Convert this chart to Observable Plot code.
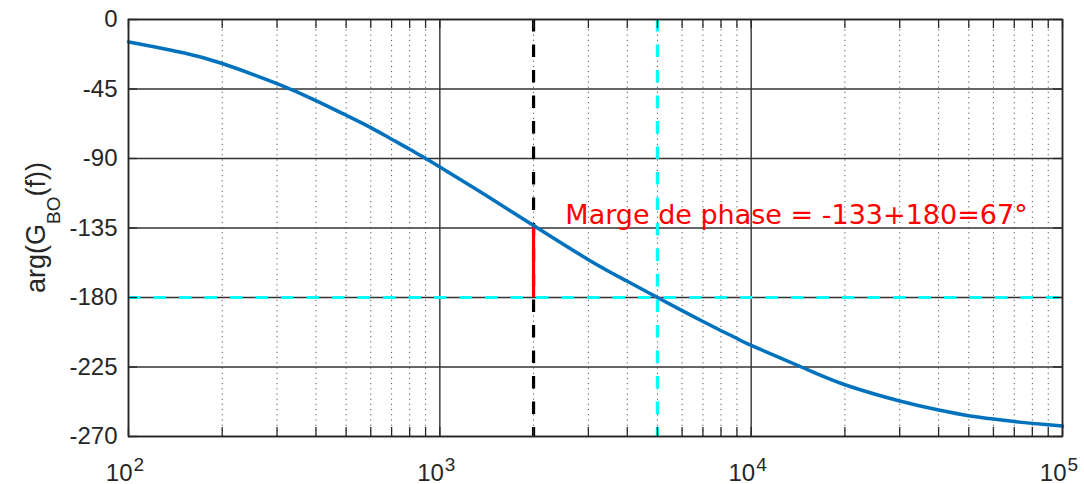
<!DOCTYPE html>
<html>
<head>
<meta charset="utf-8">
<script src="https://cdn.jsdelivr.net/npm/d3@7"></script>
<script src="https://cdn.jsdelivr.net/npm/@observablehq/plot@0.6"></script>
<style>
  html, body { margin: 0; padding: 0; background: #fff; }
</style>
</head>
<body>
<div id="chart"></div>
<script>
// ---- data ----
const freq  = [100, 150, 200, 300, 400, 500, 600, 700, 800, 900, 1000, 1422, 2000, 3000, 4000, 5000, 6000, 7000, 8000, 9000, 10000, 14500, 20000, 30000, 40000, 50000, 60000, 70000, 80000, 90000, 100000];
const phase = [-14.5, -21.5, -28.5, -41.5, -52.5, -62, -70, -77.5, -84, -90, -95.5, -114.5, -133.4, -155.5, -169.5, -180, -188.5, -195.5, -201.5, -206.5, -211, -225, -236.5, -247, -252.8, -256.5, -258.7, -260.3, -261.5, -262.4, -263.2];

const xMajor = [100, 1000, 10000, 100000];
const xTickBase = ["10", "10", "10", "10"];
const xTickExp = ["2", "3", "4", "5"];
const xMinor = [200,300,400,500,600,700,800,900, 2000,3000,4000,5000,6000,7000,8000,9000, 20000,30000,40000,50000,60000,70000,80000,90000];
const yTicks = [0, -45, -90, -135, -180, -225, -270];
const yTickLabels = ["0", "-45", "-90", "-135", "-180", "-225", "-270"];

const crossoverFreq = [2000];      // black dashed vertical
const phaseCrossFreq = [5000];     // cyan dashed vertical
const phaseRef = [-180];           // cyan dashed horizontal
const marginSeg = [{f: 2000, from: -180, to: -133}];
const annotation = [{f: 2530, p: -127, label: "Marge de phase = -133+180=67°"}];

const curve = freq.map((f, i) => ({f, p: phase[i]}));

const W = 1084, H = 484, mL = 128, mR = 22, mT = 19, mB = 48;
const pw = W - mL - mR, ph = H - mT - mB;
const tickLen = 9;
const allX = xMajor.concat(xMinor);
const ink = "#262626";

const chart = Plot.plot({
  width: W, height: H,
  marginLeft: mL, marginRight: mR, marginTop: mT, marginBottom: mB,
  x: {type: "log", domain: [100, 100000], axis: null},
  y: {domain: [-270, 0], axis: null},
  style: {fontFamily: "'Liberation Sans', Arial, Helvetica, sans-serif", background: "#fff", overflow: "visible"},
  marks: [
    // grid
    Plot.ruleX(xMinor, {x: d => d, stroke: "#555", strokeWidth: 1, strokeDasharray: "1.2,4"}),
    Plot.ruleX(xMajor, {x: d => d, stroke: "#333", strokeWidth: 1.4}),
    Plot.ruleY(yTicks, {y: d => d, stroke: "#333", strokeWidth: 1.4}),
    // reference lines
    Plot.ruleX(crossoverFreq, {x: d => d, stroke: "#000", strokeWidth: 3.2, strokeDasharray: "12.5,13"}),
    Plot.ruleX(phaseCrossFreq, {x: d => d, stroke: "#00FFFF", strokeWidth: 3.2, strokeDasharray: "12.5,13"}),
    Plot.ruleY(phaseRef, {y: d => d, stroke: "#00FFFF", strokeWidth: 3.2, strokeDasharray: "12.5,13"}),
    Plot.ruleX(marginSeg, {x: "f", y1: "from", y2: "to", stroke: "#FF0000", strokeWidth: 3.2}),
    // curve
    Plot.line(curve, {x: "f", y: "p", stroke: "#0072BD", strokeWidth: 3.5, curve: "natural"}),
    // annotation
    Plot.text(annotation, {x: "f", y: "p", text: "label", fill: "#FF0000", fontSize: 27,
      fontFamily: "'DejaVu Sans', Verdana, sans-serif", textAnchor: "start", lineAnchor: "middle"}),
    // frame
    Plot.frame({stroke: ink, strokeWidth: 1.6}),
    // inward ticks
    Plot.ruleX(allX, {x: d => d, stroke: ink, strokeWidth: 1.3, insetTop: ph - tickLen}),
    Plot.ruleX(allX, {x: d => d, stroke: ink, strokeWidth: 1.3, insetBottom: ph - tickLen}),
    Plot.ruleY(yTicks, {y: d => d, stroke: ink, strokeWidth: 1.3, insetRight: pw - tickLen}),
    Plot.ruleY(yTicks, {y: d => d, stroke: ink, strokeWidth: 1.3, insetLeft: pw - tickLen}),
    // tick labels
    Plot.text(yTicks, {y: d => d, text: (d, i) => yTickLabels[i], frameAnchor: "left", dx: -11,
      textAnchor: "end", lineAnchor: "middle", fontSize: 24, fill: ink}),
    Plot.text(xMajor, {x: d => d, text: (d, i) => xTickBase[i], frameAnchor: "bottom", dy: 36.6, dx: 4,
      textAnchor: "end", lineAnchor: "middle", fontSize: 24, fill: ink}),
    Plot.text(xMajor, {x: d => d, text: (d, i) => xTickExp[i], frameAnchor: "bottom", dy: 28, dx: 5,
      textAnchor: "start", lineAnchor: "middle", fontSize: 19, fill: ink})
  ]
});

// y-axis label with subscript
const svg = d3.select(chart);
const lab = svg.append("text")
  .attr("transform", `translate(44.5, ${mT + ph / 2}) rotate(-90)`)
  .attr("text-anchor", "middle")
  .attr("fill", ink)
  .attr("font-family", "'Liberation Sans', Arial, Helvetica, sans-serif")
  .attr("font-size", 27);
lab.append("tspan").text("arg(G");
lab.append("tspan").attr("font-size", 19).attr("dy", 15).text("BO");
lab.append("tspan").attr("dy", -15).text("(f))");

document.getElementById("chart").appendChild(chart);
</script>
</body>
</html>
